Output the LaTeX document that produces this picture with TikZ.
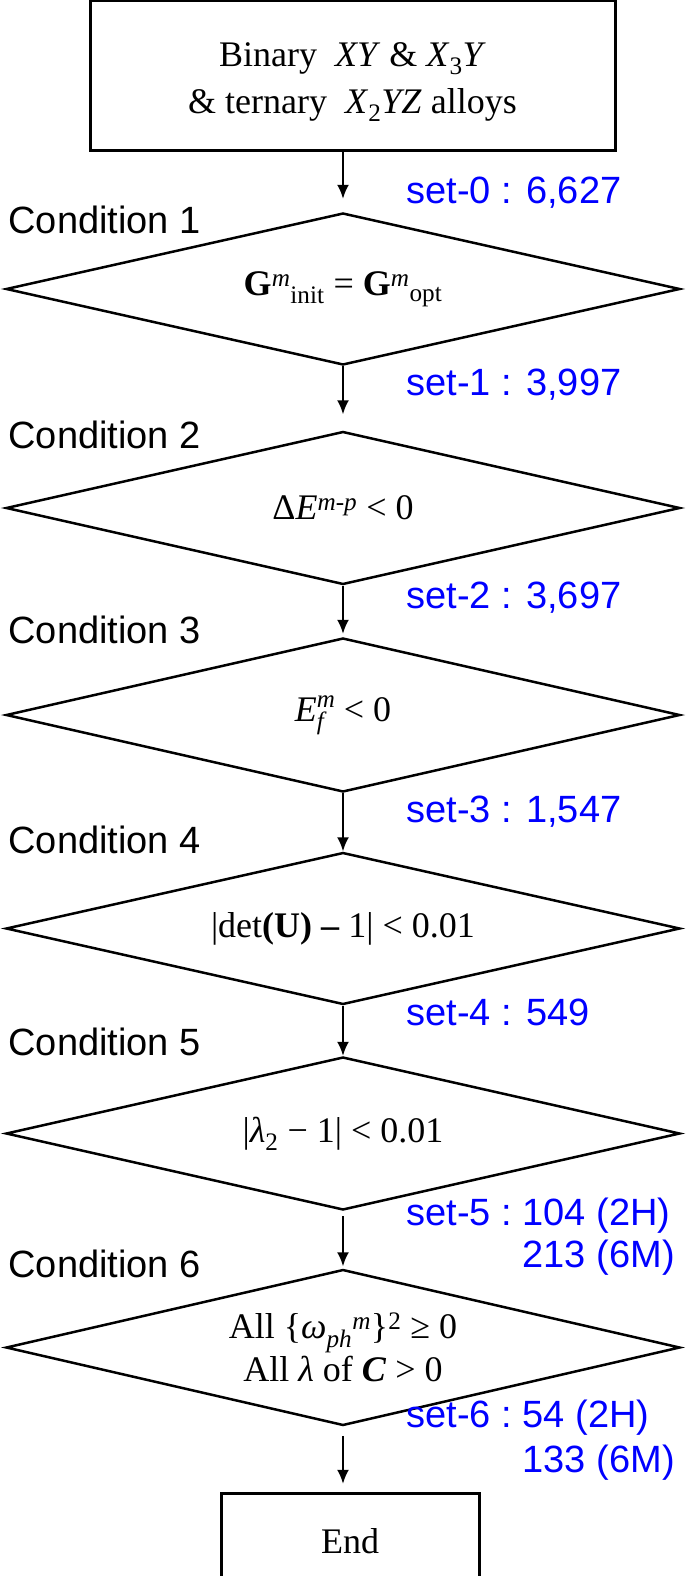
\documentclass[tikz,border=0pt]{standalone}
\usepackage{fontspec}
\setmainfont{Liberation Serif}
\setsansfont{Liberation Sans}
\usepackage{tikz}
\usetikzlibrary{shapes.geometric, arrows.meta, positioning}

\newcommand{\serifbig}{\fontsize{36}{47}\selectfont}
\newcommand{\sansbig}{\sffamily\fontsize{38}{42}\selectfont}
\newcommand{\scriptit}[1]{{\fontsize{25}{25}\selectfont\textit{#1}}}

\begin{document}
\begin{tikzpicture}[
    x=1pt, y=1pt,
    box/.style={rectangle, draw, line width=3pt, font=\serifbig, align=center},
    cond/.style={diamond, draw, line width=2.5pt, aspect=4.4, minimum width=674pt, inner sep=0pt, font=\serifbig, align=center},
    condlabel/.style={anchor=base west, font=\sansbig},
    setlabel/.style={anchor=base west, font=\sansbig, text=blue},
    line/.style={draw, -{Latex[length=14pt, width=12pt]}, line width=2pt}
]
    \useasboundingbox (0,0) rectangle (685,-1576);

    % Nodes
    % Conditions as diamonds, stacked downwards
    \node [cond, minimum height=152pt] (c1) at (343,-289) {\textbf{G}\textsuperscript{\textit{m}}\textsubscript{init} = \textbf{G}\textsuperscript{\textit{m}}\textsubscript{opt}};
    \node [cond, minimum height=153pt, below=64pt of c1] (c2) {Δ\textit{E}\textsuperscript{\textit{m-p}} < 0};
    \node [cond, minimum height=154pt, below=51pt of c2] (c3) {\textit{E}\rlap{\raisebox{-8pt}{\scriptit{f}}}\raisebox{14pt}{\scriptit{m}} < 0};
    \node [cond, minimum height=152pt, below=58pt of c3] (c4) {|det\textbf{(U)} \textbf{–} 1| < 0.01};
    \node [cond, minimum height=153pt, below=50pt of c4] (c5) {|\textit{λ}\textsubscript{2} − 1| < 0.01};
    \node [cond, minimum height=156pt, below=57pt of c5, font=\fontsize{36}{43}\selectfont] (c6) {All \{\textit{ω}\textsubscript{\textit{ph}}\textsuperscript{\textit{m}}\}\textsuperscript{2} ≥ 0\\ All \textit{λ} of \textbf{\textit{C}} > 0};

    % Start and end boxes
    \node [box, minimum width=525pt, minimum height=150pt, above=60pt of c1, xshift=9.5pt] (start) {\rule{0pt}{38pt}Binary \ \textit{XY} \& \textit{X}\textsubscript{3}\textit{Y}\\ \& ternary \ \textit{X}\textsubscript{2}\textit{YZ} alloys};
    \node [box, minimum width=258pt, minimum height=95pt, below=65pt of c6, xshift=7pt] (fin) {End};

    % Condition labels on the left
    \node [condlabel] (lab1) at (5,-233) {Condition 1};
    \node [condlabel] (lab2) at (5,-448) {Condition 2};
    \node [condlabel] (lab3) at (5,-643) {Condition 3};
    \node [condlabel] (lab4) at (5,-853) {Condition 4};
    \node [condlabel] (lab5) at (5,-1055) {Condition 5};
    \node [condlabel] (lab6) at (5,-1277) {Condition 6};

    % Set sizes on the right
    \node [setlabel] (set0) at (403,-203) {set-0 : 6,627};
    \node [setlabel] (set1) at (403,-395) {set-1 : 3,997};
    \node [setlabel] (set2) at (403,-608) {set-2 : 3,697};
    \node [setlabel] (set3) at (403,-822) {set-3 : 1,547};
    \node [setlabel] (set4) at (403,-1025) {set-4 : 549};
    \node [setlabel] (set5) at (403,-1225) {\begin{tabular}[t]{@{}l@{\ }l@{}}set-5 : & 104 (2H)\\ & 213 (6M)\end{tabular}};
    \node [setlabel] (set6) at (403,-1427) {\begin{tabular}[t]{@{}l@{\ }l@{}}set-6 : & 54 (2H)\\[3pt] & 133 (6M)\end{tabular}};

    % Connections
    \draw [line, shorten >=13pt] (start.south -| c1.north) -- (c1.north);
    \draw [line, shorten >=16pt] (c1.south) -- (c2.north);
    \draw [line, shorten >=3pt] (c2.south) -- (c3.north);
    \draw [line] (c3.south) -- (c4.north);
    \draw [line] (c4.south) -- (c5.north);
    \draw [line, shorten <=5pt, shorten >=2pt] (c5.south) -- (c6.north);
    \draw [line, shorten <=9pt, shorten >=8pt] (c6.south) -- (fin.north -| c6.south);

\end{tikzpicture}
\end{document}
